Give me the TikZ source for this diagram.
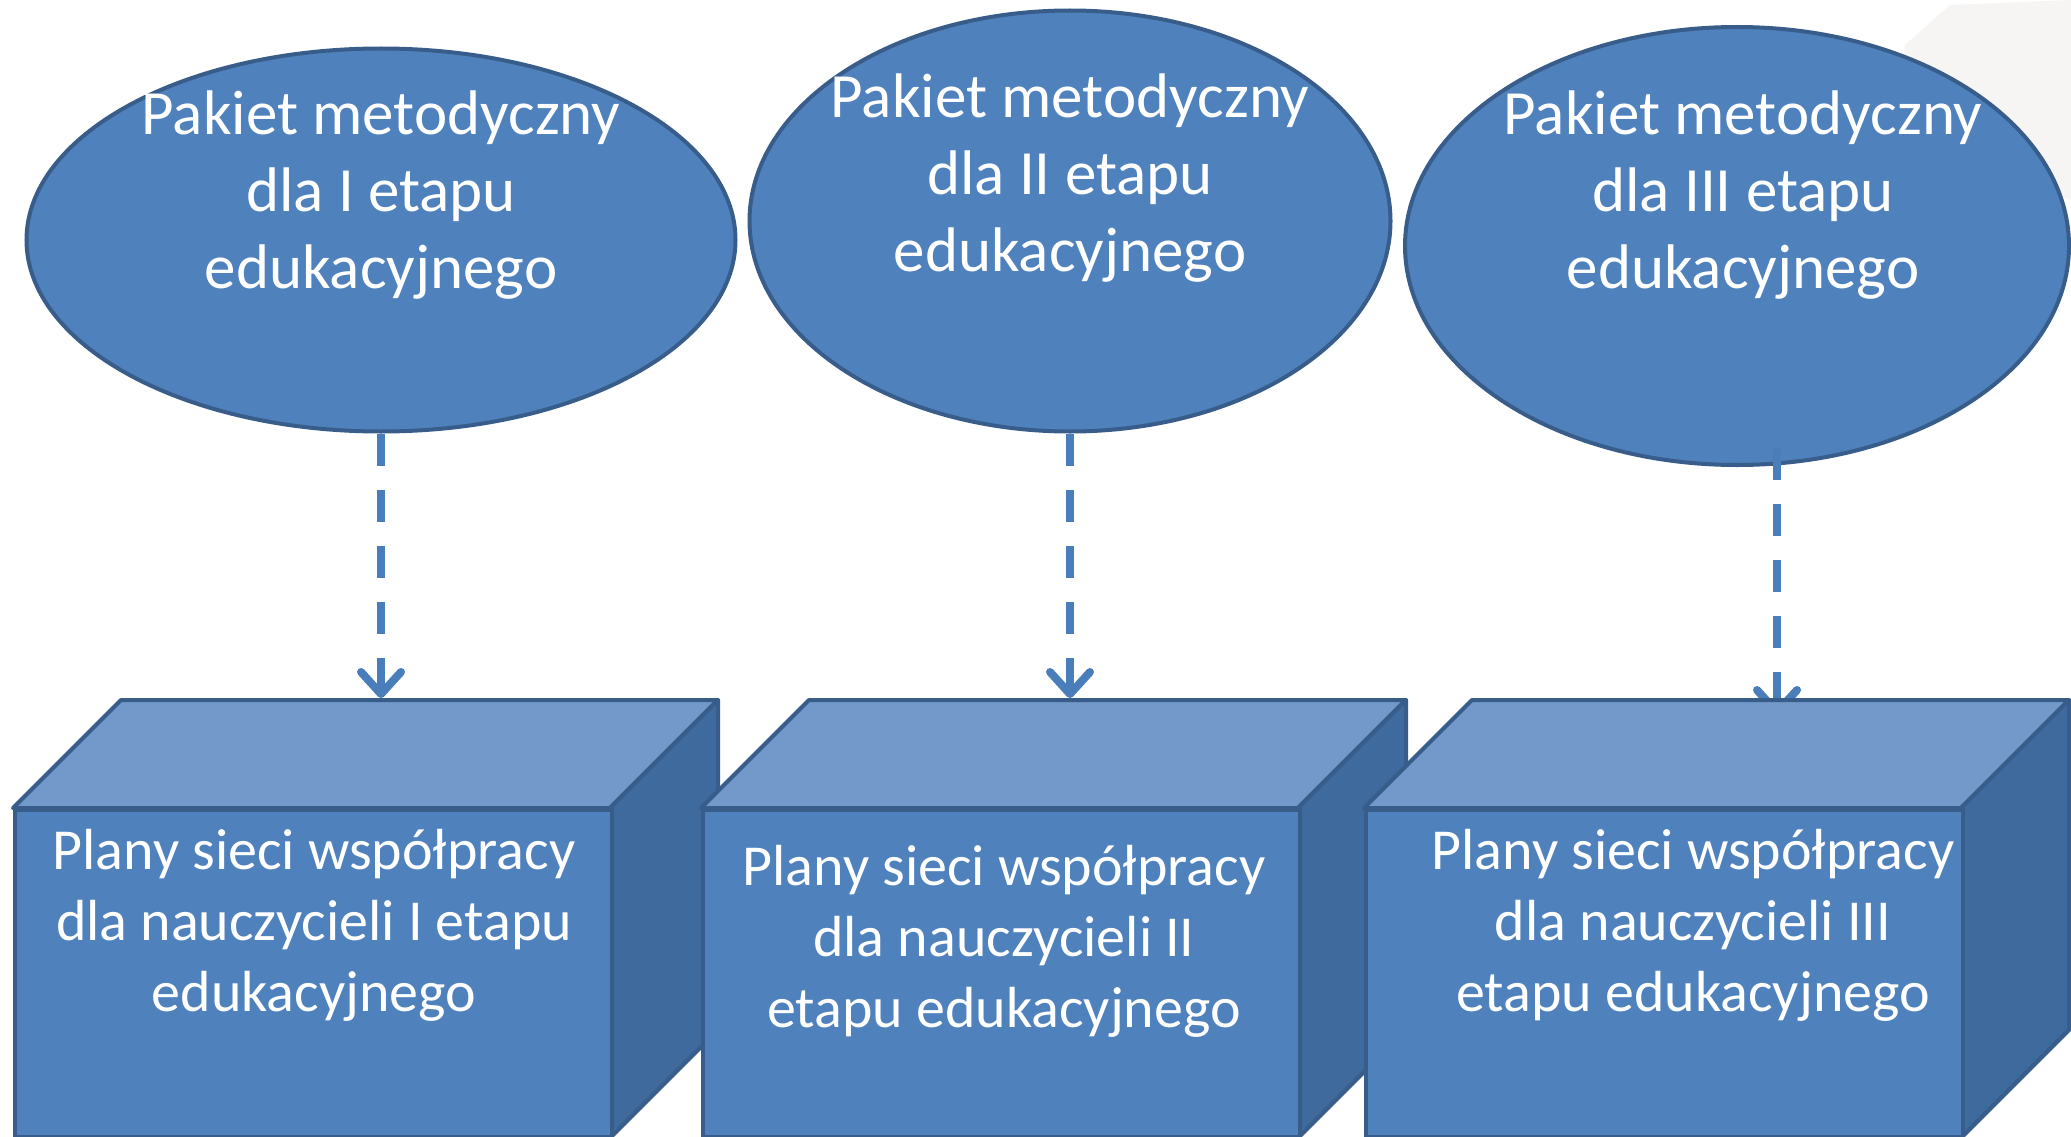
\documentclass[tikz,border=0pt]{standalone}
\usepackage{fontspec}
\setmainfont{Carlito}
\usetikzlibrary{shapes.geometric,arrows.meta}
\definecolor{fillblue}{HTML}{4F81BD}
\definecolor{edgeblue}{HTML}{385D8A}
\definecolor{topblue}{HTML}{7299C9}
\definecolor{sideblue}{HTML}{3F6A9E}
\definecolor{arrowblue}{HTML}{4A7EBB}
\definecolor{faint}{HTML}{F7F5F3}
\tikzset{
  oval/.style={ellipse, draw=edgeblue, fill=fillblue, line width=4pt, inner sep=0pt},
  ovaltext/.style={text=white, align=center, font=\fontsize{63}{77}\selectfont},
  boxtext/.style={text=white, align=center, font=\fontsize{58}{71}\selectfont},
  front/.style={rectangle, draw=edgeblue, fill=fillblue, line width=4pt, inner sep=0pt, anchor=north west, minimum width=597pt, minimum height=327pt},
  topface/.style={draw=edgeblue, fill=topblue, line width=4pt, line join=round},
  sideface/.style={draw=edgeblue, fill=sideblue, line width=4pt, line join=round},
  link/.style={draw=arrowblue, line width=8pt, dash pattern=on 32pt off 24pt, -{Straight Barb[length=22pt,width=40pt,round]}}
}
\begin{document}
\begin{tikzpicture}[x=1pt,y=-1pt]
\useasboundingbox (0,0) rectangle (2071,1137);
% faint background shape
\fill[faint] (1890,140) -- (1905,45) -- (1950,5) -- (2071,0) -- (2071,200) -- cycle;

% ellipses
\node[oval, minimum width=709pt, minimum height=383pt] (e1) at (381,240) {};
\node[oval, minimum width=641pt, minimum height=421pt] (e2) at (1070,221) {};
\node[oval, minimum width=664pt, minimum height=438pt] (e3) at (1737,246) {};
\node[ovaltext] (t1) at (381,195) {Pakiet metodyczny\\dla I etapu\\edukacyjnego};
\node[ovaltext] (t2) at (1070,178) {Pakiet metodyczny\\dla II etapu\\edukacyjnego};
\node[ovaltext] (t3) at (1743,195) {Pakiet metodyczny\\dla III etapu\\edukacyjnego};

% arrow end points
\coordinate (a1) at (381,698);
\coordinate (a2) at (1070,698);
\coordinate (s3) at (1777,448);
\coordinate (a3) at (1777,716);
\draw[link] (e1.south) -- (a1);
\draw[link] (e2.south) -- (a2);
\draw[link] (s3) -- (a3);

% boxes
\foreach \n/\x in {1/13, 2/701, 3/1364}{
  \path[topface] (\x,808) -- (\x+597,808) -- (\x+705,700) -- (\x+108,700) -- cycle;
  \path[sideface] (\x+597,808) -- (\x+705,700) -- (\x+705,1030) -- (\x+597,1138) -- cycle;
  \node[front] (b\n) at (\x,808) {};
}
\node[boxtext] (bt1) at (314,925) {Plany sieci współpracy\\dla nauczycieli I etapu\\edukacyjnego};
\node[boxtext] (bt2) at (1004,941) {Plany sieci współpracy\\dla nauczycieli II\\etapu edukacyjnego};
\node[boxtext] (bt3) at (1693,925) {Plany sieci współpracy\\dla nauczycieli III\\etapu edukacyjnego};
\end{tikzpicture}
\end{document}
